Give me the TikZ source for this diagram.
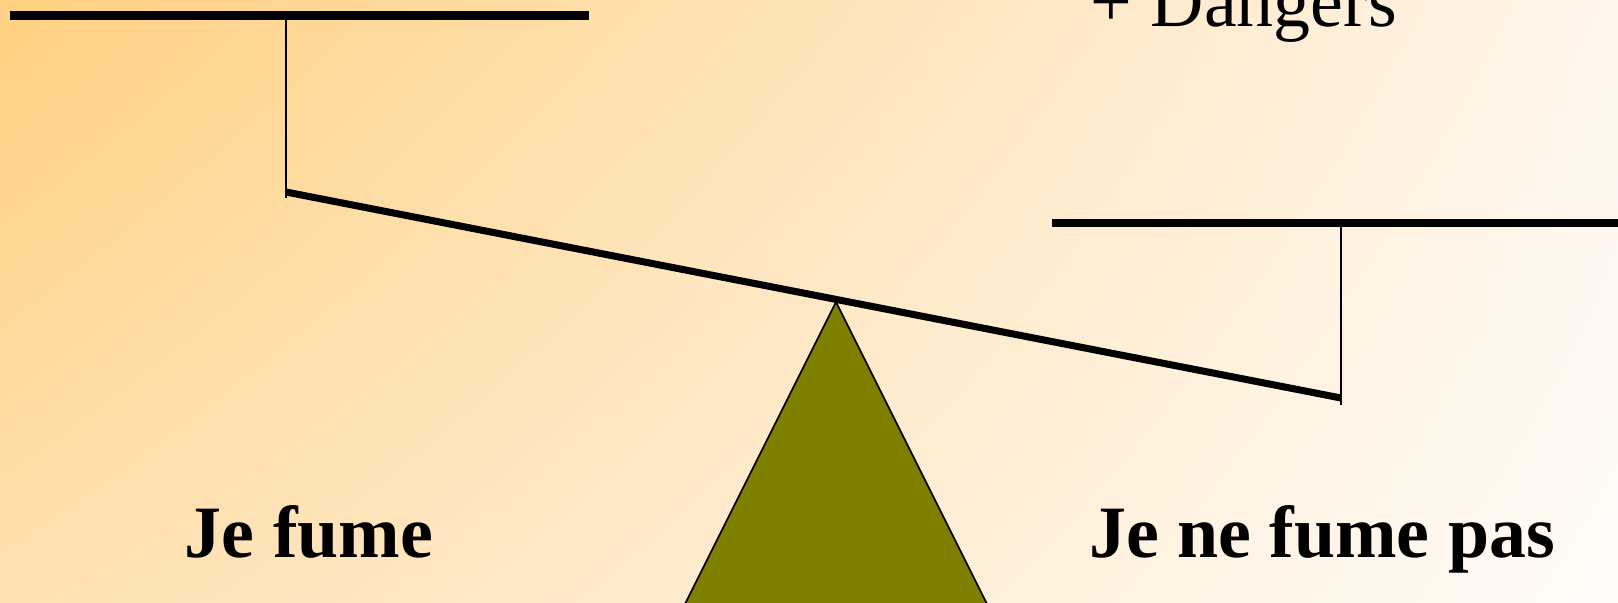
\documentclass[tikz,border=0pt]{standalone}
\usepackage{fontspec}
\setmainfont{Liberation Serif}
\usepackage{xcolor}
\usepackage{tikz}
\usetikzlibrary{positioning,calc,shadings}
\definecolor{bgTL}{RGB}{255,208,128}
\definecolor{bgTR}{RGB}{255,245,235}
\definecolor{bgBL}{RGB}{255,224,176}
\definecolor{bgBR}{RGB}{255,251,247}
\definecolor{fulcrum}{RGB}{128,128,0}
\tikzset{
  pan/.style   ={line width=2.4pt},
  hang/.style  ={line width=0.5pt},
  beam/.style  ={line width=2pt},
  pivot/.style ={fill=fulcrum,draw=black,line width=0.5pt},
  lbl/.style   ={anchor=base,inner sep=0pt,font=\fontsize{21}{25}\selectfont},
}

\begin{document}
\begin{tikzpicture}[x=0.01cm,y=-0.01cm]
  \useasboundingbox (0,0) rectangle (1618,603);
  \shade[upper left=bgTL,upper right=bgTR,lower left=bgBL,lower right=bgBR] (0,0) rectangle (1618,603);
  \clip (0,0) rectangle (1618,603);
  \coordinate (apex) at (836,302);
  \coordinate (baseL) at ($(apex)+(-175,350)$);
  \coordinate (baseR) at ($(apex)+(175,350)$);
  \coordinate (beamL) at (286,192);
  \coordinate (beamR) at (1341,398);
  \coordinate (hangL) at (286,15.5);
  \coordinate (hangLb) at (286,198);
  \coordinate (hangR) at (1341,223);
  \coordinate (hangRb) at (1341,405);
  \coordinate (panL1) at (10,15.5);
  \coordinate (panL2) at (589,15.5);
  \coordinate (panR1) at (1052,223);
  \coordinate (panR2) at (1640,223);
  \draw[pivot] (apex)--(baseL)--(baseR)--cycle;
  \draw[beam] (beamL)--(beamR);
  \draw[hang] (hangL)--(hangLb); \draw[hang] (hangR)--(hangRb);
  \draw[pan] (panL1)--(panL2); \draw[pan] (panR1)--(panR2);
  \node[lbl,anchor=base west] (danger) at (1090,27) {+ Dangers};
  \node[lbl] (fume) at (309,557) {\bfseries Je fume};
  \node[lbl] (nofume) at (1322,557) {\bfseries Je ne fume pas};
\end{tikzpicture}
\end{document}
